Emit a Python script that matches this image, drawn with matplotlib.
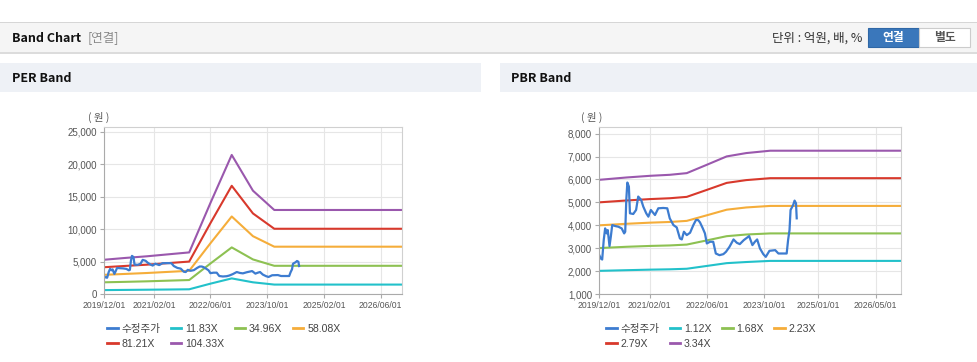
import numpy as np
import pandas as pd
import matplotlib
matplotlib.use("Agg")
import matplotlib.pyplot as plt
from matplotlib.patches import Rectangle
from matplotlib.lines import Line2D
from matplotlib.ticker import FuncFormatter

plt.rcParams['font.family'] = ['Liberation Sans', 'Noto Sans CJK KR']
KR = ['Noto Sans CJK KR', 'DejaVu Sans']
LAT = ['Liberation Sans', 'Noto Sans CJK KR']

W, H = 978, 362

# --- adjusted price (shared by both charts) ---
price_dates = [
    "2019-12-01", "2019-12-16", "2019-12-28", "2020-01-10", "2020-01-22", "2020-02-04",
    "2020-02-13", "2020-02-28", "2020-03-10", "2020-03-22", "2020-04-16", "2020-05-13",
    "2020-06-10", "2020-07-01", "2020-07-10", "2020-07-19", "2020-07-28", "2020-08-10",
    "2020-08-19", "2020-09-16", "2020-10-10", "2020-10-28", "2020-11-22", "2020-12-10",
    "2021-01-04", "2021-01-22", "2021-02-12", "2021-03-19", "2021-04-16", "2021-05-28",
    "2021-07-01", "2021-07-22", "2021-08-22", "2021-09-19", "2021-10-16", "2021-11-01",
    "2021-11-19", "2021-12-13", "2022-01-10", "2022-02-07", "2022-03-01", "2022-03-19",
    "2022-04-04", "2022-04-28", "2022-05-16", "2022-06-01", "2022-06-28", "2022-07-25",
    "2022-08-16", "2022-09-16", "2022-10-19", "2022-11-10", "2022-12-10", "2023-01-13",
    "2023-02-10", "2023-03-07", "2023-04-10", "2023-05-25", "2023-06-22", "2023-07-13",
    "2023-08-01", "2023-08-25", "2023-09-22", "2023-10-13", "2023-11-13", "2024-01-01",
    "2024-01-28", "2024-03-10", "2024-04-07", "2024-04-19", "2024-05-01", "2024-05-10",
    "2024-06-01", "2024-06-13", "2024-06-25", "2024-07-01",
]
price_values = [
    2725, 2550, 2505, 3353, 3864, 3645,
    3790, 3090, 3500, 4010, 3967, 3937,
    3864, 3645, 3718, 5107, 5866, 5690,
    4522, 4493, 4668, 5253, 5107, 4814,
    4522, 4376, 4668, 4449, 4741, 4756,
    4741, 4303, 4010, 3908, 3426, 3382,
    3718, 3572, 3674, 4010, 4230, 4230,
    4127, 3864, 3645, 3207, 3280, 3280,
    2768, 2695, 2740, 2841, 3060, 3382,
    3236, 3177, 3353, 3528, 3134, 3280,
    3382, 2987, 2740, 2622, 2885, 2914,
    2768, 2768, 2768, 3353, 3790, 4668,
    4887, 5077, 4960, 4303,
]

# --- PER bands ---
per_dates = ["2019-12-01", "2020-06-01", "2020-12-01", "2021-06-01", "2021-12-01",
             "2022-06-01", "2022-12-01", "2023-06-01", "2023-12-01", "2026-12-01"]
per_11 = [600, 630, 660, 690, 725, 1590, 2400, 1800, 1450, 1450]
per_35 = [1800, 1870, 1950, 2050, 2150, 4690, 7170, 5320, 4340, 4340]
per_58 = [2950, 3090, 3230, 3400, 3570, 7800, 11930, 8900, 7280, 7280]
per_81 = [4120, 4320, 4510, 4750, 4990, 10900, 16650, 12400, 10040, 10040]
per_104 = [5270, 5550, 5800, 6100, 6400, 14000, 21400, 15900, 12930, 12930]
per_labels = ["11.83X", "34.96X", "58.08X", "81.21X", "104.33X"]

# --- PBR bands ---
pbr_dates = ["2019-12-01", "2020-07-20", "2021-02-05", "2021-07-22", "2021-12-13",
             "2022-06-01", "2022-11-16", "2023-05-01", "2023-11-20", "2026-12-01"]
pbr_112 = [2010, 2039, 2063, 2078, 2102, 2225, 2347, 2396, 2445, 2445]
pbr_168 = [3005, 3061, 3098, 3120, 3157, 3340, 3524, 3597, 3645, 3645]
pbr_223 = [3997, 4065, 4114, 4144, 4192, 4436, 4680, 4778, 4845, 4845]
pbr_279 = [5000, 5082, 5143, 5180, 5240, 5545, 5850, 5972, 6056, 6056]
pbr_334 = [5983, 6086, 6159, 6203, 6276, 6641, 7006, 7152, 7255, 7255]
pbr_labels = ["1.12X", "1.68X", "2.23X", "2.79X", "3.34X"]

per_ticks = ["2019/12/01", "2021/02/01", "2022/06/01", "2023/10/01", "2025/02/01", "2026/06/01"]
pbr_ticks = ["2019/12/01", "2021/02/01", "2022/06/01", "2023/10/01", "2025/01/01", "2026/05/01"]

price_color = '#3d7cd0'
band_colors = ['#22c1ca', '#8dc152', '#f5ad3a', '#d8392c', '#9a58ad']

fig = plt.figure(figsize=(W / 100, H / 100), dpi=100)
fig.patch.set_facecolor('white')


def px_rect(x0, y0, x1, y1, **kw):
    fig.add_artist(Rectangle((x0 / W, 1 - y1 / H), (x1 - x0) / W, (y1 - y0) / H,
                             transform=fig.transFigure, **kw))


def px_text(x, y, s, **kw):
    fig.text(x / W, 1 - y / H, s, **kw)


# header bar
px_rect(0, 22, W, 23, facecolor='#d6d6d6', edgecolor='none')
px_rect(0, 23, W, 52, facecolor='#f5f5f5', edgecolor='none')
px_rect(0, 52, W, 54, facecolor='#dcdcdc', edgecolor='none')
px_text(12, 38, "Band Chart", fontsize=9, fontweight='bold', family=KR, va='center', color='#111')
px_text(88, 38, "[연결]", fontsize=9, family=KR, va='center', color='#8a8a8a')
px_text(862, 38, "단위 : 억원, 배, %", fontsize=9, family=KR, va='center', ha='right', color='#333')
px_rect(868, 28, 919, 47, facecolor='#3a77bb', edgecolor='#2f67a6', linewidth=0.8)
px_rect(919, 28, 970, 47, facecolor='#ffffff', edgecolor='#cccccc', linewidth=0.8)
px_text(893.5, 37.5, "연결", fontsize=8.5, fontweight='bold', family=KR, va='center', ha='center', color='white')
px_text(944.5, 37.5, "별도", fontsize=8.5, fontweight='bold', family=KR, va='center', ha='center', color='#555')

# panel headers
px_rect(0, 63, 481, 92, facecolor='#eef1f6', edgecolor='none')
px_rect(500, 63, W, 92, facecolor='#eef1f6', edgecolor='none')
px_text(12, 78, "PER Band", fontsize=9, fontweight='bold', family=KR, va='center', color='#111')
px_text(511, 78, "PBR Band", fontsize=9, fontweight='bold', family=KR, va='center', color='#111')


def make_axes(left, right, top, bottom):
    return fig.add_axes([left / W, 1 - bottom / H, (right - left) / W, (bottom - top) / H])


def style_axes(ax, ylim, yticks, xtick_labels, ylab_x):
    ax.set_xlim(pd.Timestamp("2019-12-01"), pd.Timestamp("2026-12-01"))
    ax.set_ylim(*ylim)
    ax.set_yticks(yticks)
    ax.yaxis.set_major_formatter(FuncFormatter(lambda v, p: f"{v:,.0f}"))
    ax.set_xticks([pd.Timestamp(s.replace('/', '-')) for s in xtick_labels])
    ax.set_xticklabels(xtick_labels, fontsize=6.2)
    ax.grid(True, color='#e6e6e6', linewidth=0.8)
    ax.set_axisbelow(True)
    for sp in ax.spines.values():
        sp.set_color('#d0d0d0')
        sp.set_linewidth(0.8)
    ax.spines['left'].set_color('#aaaaaa')
    ax.spines['bottom'].set_color('#aaaaaa')
    ax.tick_params(axis='y', labelsize=7)
    ax.tick_params(colors='#aaaaaa', labelcolor='#555555', length=3, width=0.8, pad=2)
    ax.text(ylab_x, 1.06, "( 원 )", transform=ax.transAxes, fontsize=7.5, family=KR,
            color='#555', ha='center', va='center')


def add_legend(handles, labels, x_px, y_px):
    # reorder so the 4-column legend reads row by row
    order = [0, 4, 1, 5, 2, 3]
    h = [handles[i] for i in order]
    l = [labels[i] for i in order]
    fig.legend(h, l, loc='upper left', bbox_to_anchor=(x_px / W, 1 - y_px / H),
               ncol=4, frameon=False, handlelength=1.0, handletextpad=0.35,
               columnspacing=1.0, labelspacing=0.45, borderpad=0, borderaxespad=0,
               prop={'family': LAT, 'size': 7.6}, labelcolor='#444')


legend_handles = [Line2D([], [], color=price_color, linewidth=2)] + \
    [Line2D([], [], color=c, linewidth=2) for c in band_colors]

# PER chart
ax1 = make_axes(104, 402, 127, 294)
p_dates = pd.to_datetime(price_dates)
per_d = pd.to_datetime(per_dates)
per_series = [per_11, per_35, per_58, per_81, per_104]
for vals, c in zip(per_series, band_colors):
    ax1.plot(per_d, vals, color=c, linewidth=1.5)
ax1.plot(p_dates, price_values, color=price_color, linewidth=1.6)
style_axes(ax1, (0, 25700), np.arange(0, 25001, 5000), per_ticks, -0.017)
add_legend(legend_handles, ["수정주가"] + per_labels, 107, 324)

# PBR chart
ax2 = make_axes(599, 901, 127, 294)
pbr_d = pd.to_datetime(pbr_dates)
pbr_series = [pbr_112, pbr_168, pbr_223, pbr_279, pbr_334]
for vals, c in zip(pbr_series, band_colors):
    ax2.plot(pbr_d, vals, color=c, linewidth=1.5)
ax2.plot(p_dates, price_values, color=price_color, linewidth=1.6)
style_axes(ax2, (1000, 8290), np.arange(1000, 8001, 1000), pbr_ticks, -0.023)
add_legend(legend_handles, ["수정주가"] + pbr_labels, 606, 324)

fig.savefig("out.png", dpi=100)
